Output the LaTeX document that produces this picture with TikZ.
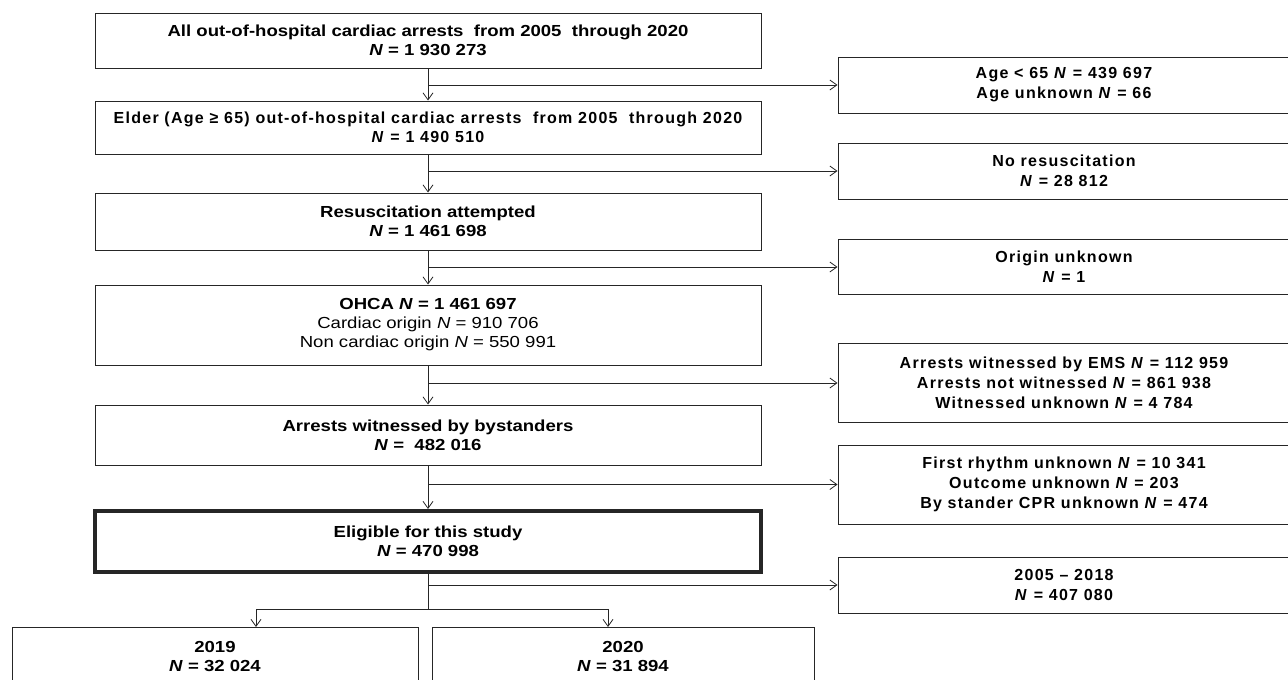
\documentclass[tikz,border=0pt]{standalone}
\usepackage{fontspec}
\setmainfont{Liberation Sans}
\newfontfamily\narrowfont{Liberation Sans}[FakeStretch=1.16]
\newfontfamily\widefont{Liberation Sans}[LetterSpace=8]
\usetikzlibrary{arrows.meta}

\tikzset{
	mainbox/.style={draw=black!85, line width=1pt, minimum width=666pt, inner sep=0pt, align=center, font=\narrowfont\fontsize{16}{19}\selectfont\bfseries},
	sidebox/.style={draw=black!85, line width=1pt, minimum width=452pt, inner sep=0pt, align=center, font=\widefont\fontsize{16}{20}\selectfont\bfseries},
	flow/.style={draw=black!85, line width=0.8pt, -{Straight Barb[length=7pt,width=10pt]}},
}

\begin{document}
\begin{tikzpicture}[x=1pt,y=1pt,yscale=-1]
	\useasboundingbox (0,0) rectangle (1288,680);
	
	% main column
	\node[mainbox, minimum height=55pt] (all) at (428,40.5) {All out-of-hospital cardiac arrests\ \ from 2005\ \ through 2020\\ \textit{N} = 1 930 273};
	\node[mainbox, minimum height=53pt, font=\widefont\fontsize{16}{19}\selectfont\bfseries] (elder) at (428,127.5) {Elder (Age ≥ 65) out-of-hospital cardiac arrests\ \ from 2005\ \ through 2020\\ \textit{N} = 1 490 510};
	\node[mainbox, minimum height=57pt] (resus) at (428,221.5) {Resuscitation attempted\\ \textit{N} = 1 461 698};
	\node[mainbox, minimum height=80pt] (ohca) at (428,325) {OHCA \textit{N} = 1 461 697\\ {\mdseries Cardiac origin \textit{N} = 910 706}\\ {\mdseries Non cardiac origin \textit{N} = 550 991}};
	\node[mainbox, minimum height=60pt] (bystand) at (428,435) {Arrests witnessed by bystanders\\ \textit{N} =\ \ 482 016};
	\node[mainbox, minimum height=61pt, line width=4pt] (elig) at (428,541.5) {Eligible for this study\\ \textit{N} = 470 998};
	
	% excluded
	\node[sidebox, minimum height=56pt] (age) at (1064,85) {Age < 65 \textit{N} = 439 697\\ Age unknown \textit{N} = 66};
	\node[sidebox, minimum height=56pt] (nores) at (1064,171) {No resuscitation\\ \textit{N} = 28 812};
	\node[sidebox, minimum height=55pt] (orig) at (1064,267) {Origin unknown\\ \textit{N} = 1};
	\node[sidebox, minimum height=79pt] (wit) at (1064,383) {Arrests witnessed by EMS \textit{N} = 112 959\\ Arrests not witnessed \textit{N} = 861 938\\ Witnessed unknown \textit{N} = 4 784};
	\node[sidebox, minimum height=79pt] (unk) at (1064,484.5) {First rhythm unknown \textit{N} = 10 341\\ Outcome unknown \textit{N} = 203\\ By stander CPR unknown \textit{N} = 474};
	\node[sidebox, minimum height=56pt] (early) at (1064,585) {2005 – 2018\\ \textit{N} = 407 080};
	
	% study years
	\node[mainbox, minimum width=406pt, minimum height=58pt] (y19) at (215,656) {2019\\ \textit{N} = 32 024};
	\node[mainbox, minimum width=382pt, minimum height=58pt] (y20) at (623,656) {2020\\ \textit{N} = 31 894};
	
	% arrows
	\draw[flow] (all) -- (elder);
	\draw[flow] (all.south |- age.west) -- (age.west);
	\draw[flow] (elder) -- (resus);
	\draw[flow] (elder.south |- nores.west) -- (nores.west);
	\draw[flow] (resus) -- (ohca);
	\draw[flow] (resus.south |- orig.west) -- (orig.west);
	\draw[flow] (ohca) -- (bystand);
	\draw[flow] (ohca.south |- wit.west) -- (wit.west);
	\draw[flow] (bystand) -- (elig);
	\draw[flow] (bystand.south |- unk.west) -- (unk.west);
	\draw[flow] (elig.south |- early.west) -- (early.west);
	
	\coordinate (split) at (428,609);
	\coordinate (in19) at (256,627);
	\coordinate (in20) at (608,627);
	\draw[draw=black!85, line width=0.8pt] (elig.south) -- (split);
	\draw[flow] (split) -| (in19);
	\draw[flow] (split) -| (in20);
\end{tikzpicture}
\end{document}
